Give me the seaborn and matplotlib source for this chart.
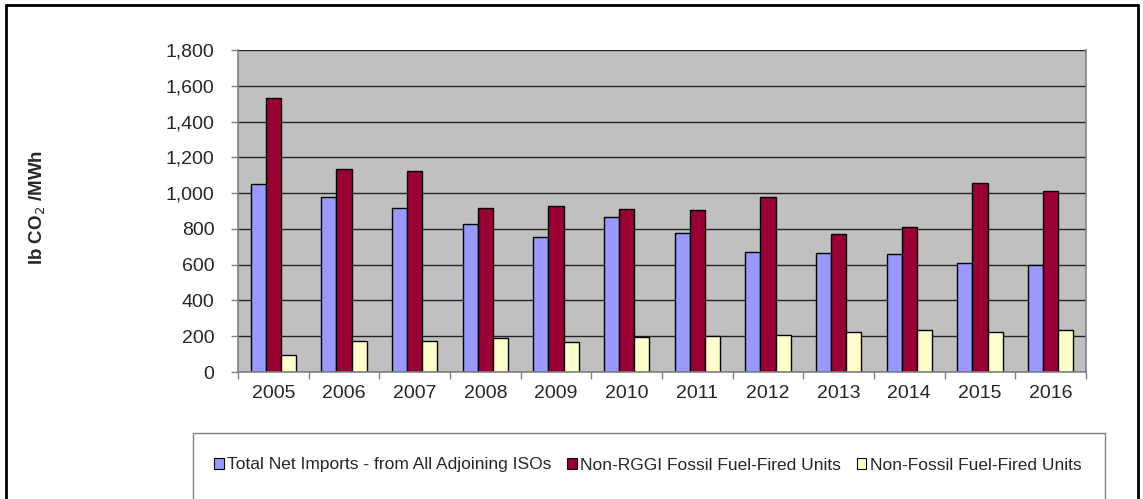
import pandas as pd
import seaborn as sns
import matplotlib.pyplot as plt
from matplotlib.lines import Line2D
from matplotlib.patches import Rectangle, Patch

# data
YEARS = ['2005', '2006', '2007', '2008', '2009', '2010', '2011', '2012', '2013', '2014', '2015', '2016']
SERIES = ['Total Net Imports - from All Adjoining ISOs', 'Non-RGGI Fossil Fuel-Fired Units', 'Non-Fossil Fuel-Fired Units']
NET_IMPORTS = [1051, 976, 917, 825, 753, 868, 775, 673, 667, 660, 609, 596]
NON_RGGI_FOSSIL = [1530, 1133, 1125, 917, 930, 911, 904, 980, 770, 812, 1058, 1010]
NON_FOSSIL = [95, 173, 173, 188, 170, 194, 199, 207, 225, 233, 225, 233]
COLORS = ['#9999FF', '#990033', '#FFFFCC']

sns.set_style('white')
plt.rcParams['font.family'] = ['Liberation Sans', 'DejaVu Sans']

rows = []
for name, vals in zip(SERIES, [NET_IMPORTS, NON_RGGI_FOSSIL, NON_FOSSIL]):
    for y, v in zip(YEARS, vals):
        rows.append({'Year': y, 'Value': v, 'Series': name})
df = pd.DataFrame(rows)

fig = plt.figure(figsize=(11.43, 4.99), dpi=100)
ax = fig.add_axes([0.2082, 0.2545, 0.7419, 0.6453])
ax.set_facecolor('#C0C0C0')
ax.set_axisbelow(True)

sns.barplot(data=df, x='Year', y='Value', hue='Series', order=YEARS, hue_order=SERIES,
            palette=COLORS, width=0.64, gap=0, edgecolor='black', linewidth=1,
            saturation=1, ax=ax)
if ax.get_legend() is not None:
    ax.get_legend().remove()

ax.set_ylim(0, 1800)
ax.set_xlim(-0.5, len(YEARS) - 0.5)
ax.set_yticks(range(0, 1801, 200))
ax.set_yticklabels([f'{v:,}' for v in range(0, 1801, 200)])
ax.yaxis.grid(True, color='#222222', linewidth=1)
ax.xaxis.grid(False)

# Excel style: tick marks between the categories
ax.set_xticks([i - 0.5 for i in range(len(YEARS) + 1)], minor=True)
ax.tick_params(axis='x', which='major', length=0, labelsize=14, pad=9)
ax.tick_params(axis='x', which='minor', length=5, color='#808080', width=1, direction='out', bottom=True)
ax.tick_params(axis='y', length=5, color='#808080', width=1, direction='out', left=True, labelsize=14, pad=12)
ax.set_xlabel('')
ax.set_ylabel('')

for side in ['left', 'bottom', 'right']:
    ax.spines[side].set_visible(True)
    ax.spines[side].set_color('#808080')
    ax.spines[side].set_linewidth(1.2)
ax.spines['top'].set_visible(False)

fig.text(38 / 1143, 1 - 207 / 499, 'lb CO$_2$ /MWh', rotation=90, ha='center', va='center',
         fontsize=13.5, fontweight='semibold')

# legend box
fig.add_artist(Rectangle((193 / 1143, -0.05), (1105 - 193) / 1143, 1 - 433 / 499 + 0.05,
                         transform=fig.transFigure, facecolor='white', edgecolor='#808080',
                         linewidth=1))
handles = [Patch(facecolor=c, edgecolor='black', linewidth=0.8) for c in COLORS]
fig.legend(handles, SERIES, loc='center', bbox_to_anchor=(648 / 1143, 1 - 465 / 499),
           ncol=3, frameon=False, fontsize=12.5, handlelength=0.55, handleheight=0.55,
           handletextpad=0.2, columnspacing=0.9)

# outer border
for xs, ys in [([6, 6], [0, 494]), ([6, 1138], [494, 494]), ([1138, 1138], [494, 0])]:
    fig.add_artist(Line2D([x / 1143 for x in xs], [y / 499 for y in ys],
                          transform=fig.transFigure, color='black', linewidth=2))

fig.savefig('out.png', dpi=100)
